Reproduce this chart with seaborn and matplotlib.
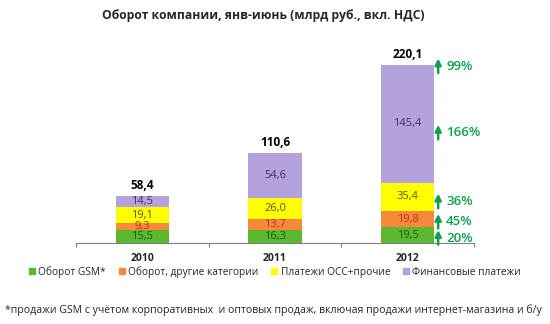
import numpy as np
import pandas as pd
import matplotlib
matplotlib.use("Agg")
import matplotlib.pyplot as plt
import seaborn as sns

years = ["2010", "2011", "2012"]
series_names = ["Оборот GSM*", "Оборот, другие категории", "Платежи ОСС+прочие", "Финансовые платежи"]
gsm = [15.5, 16.3, 19.5]
other = [9.3, 13.7, 19.8]
oss = [19.1, 26.0, 35.4]
fin = [14.5, 54.6, 145.4]
totals = [58.4, 110.6, 220.1]
growth_labels = ["20%", "45%", "36%", "166%", "99%"]
growth_y = [6, 26, 51, 136, 218]

colors = ["#5cb82e", "#f7893a", "#ffff00", "#b3a2dc"]
text_colors = ["#1d5a12", "#c0311b", "#5e5a00", "#3d2e66"]

sns.set_theme(style="white")
plt.rcParams["font.family"] = ["Open Sans", "DejaVu Sans"]

fig = plt.figure(figsize=(5.5, 3.24), dpi=100)
ax = fig.add_axes([76/550, 0.25, 398/550, 0.612])

series = [gsm, other, oss, fin]
cum = np.cumsum(np.array(series), axis=0)
# draw from top down so each lower stack overlays
for i in range(3, -1, -1):
    df = pd.DataFrame({"year": years, "value": cum[i]})
    sns.barplot(data=df, x="year", y="value", color=colors[i], width=0.4,
                saturation=1, ax=ax, edgecolor="none", linewidth=0)

for i in range(4):
    for j in range(3):
        bottom = cum[i][j] - series[i][j]
        ax.text(j, bottom + series[i][j] / 2, f"{series[i][j]:.1f}".replace(".", ","),
                ha="center", va="center", fontsize=8, color=text_colors[i])

for j in range(3):
    ax.text(j, totals[j] + 5, f"{totals[j]:.1f}".replace(".", ","), ha="center",
            va="bottom", fontsize=8.5, fontweight="bold", color="black")

grn = "#10a04a"
for lab, yv in zip(growth_labels, growth_y):
    ax.annotate("", xy=(2.23, yv + 10), xytext=(2.23, yv - 8),
                arrowprops=dict(arrowstyle="-|>", mutation_scale=9,
                                color=grn, lw=1.8, shrinkA=0, shrinkB=0))
    ax.text(2.29, yv, lab, ha="left", va="center", fontsize=9.5, color=grn,
            fontweight="semibold")

ax.set_xlim(-0.5, 2.5)
ax.set_ylim(0, 245)
for s in ["top", "right", "left"]:
    ax.spines[s].set_visible(False)
ax.spines["bottom"].set_color("#808080")
ax.spines["bottom"].set_linewidth(0.8)
ax.set_yticks([])
ax.set_xlabel("")
ax.set_ylabel("")
ax.set_xticks([0, 1, 2])
ax.set_xticklabels(years, fontsize=7.5, fontweight="bold")
ax.tick_params(axis="x", length=0, pad=7)
ax.set_xticks([-0.5, 0.5, 1.5, 2.5], minor=True)
ax.tick_params(axis="x", which="minor", length=3, color="#808080", width=0.8, bottom=True)

fig.text(263/550, 1 - 16/324, "Оборот компании, янв-июнь (млрд руб., вкл. НДС)",
         ha="center", va="center", fontsize=8.7, fontweight="bold")

handles = [plt.Line2D([], [], marker="s", linestyle="none", markersize=4,
                      color=c) for c in colors]
fig.legend(handles, series_names, loc="center", bbox_to_anchor=(0.5, 1 - 272/324),
           ncol=4, frameon=False, fontsize=7.3, handlelength=0.6, handletextpad=0.3,
           columnspacing=1.3)

fig.text(5/550, 1 - 310/324,
         "*продажи GSM с учётом корпоративных  и оптовых продаж, включая продажи интернет-магазина и б/у",
         ha="left", va="center", fontsize=7.6)

fig.savefig("out.png", dpi=100)
